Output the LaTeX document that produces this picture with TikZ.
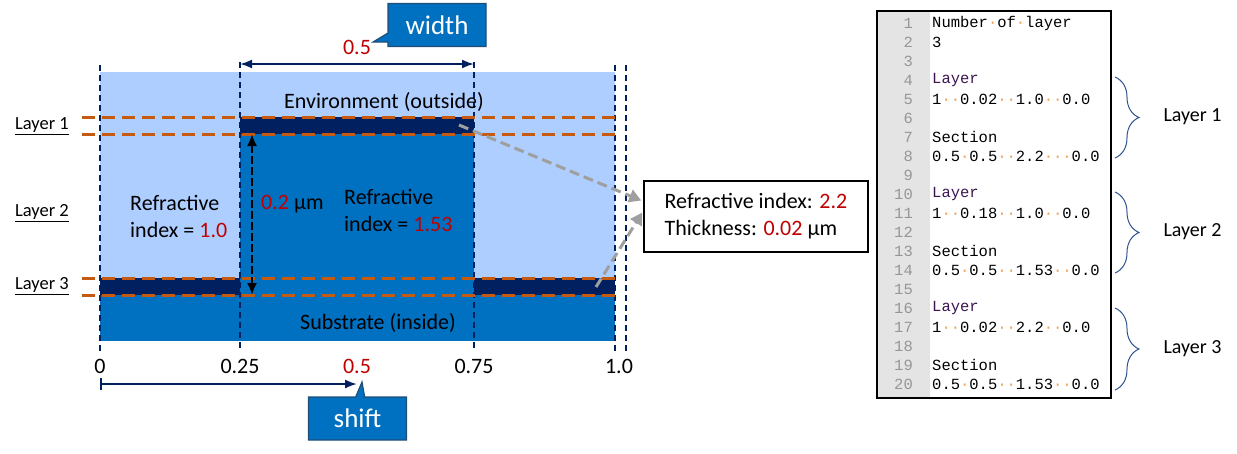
\documentclass[tikz,border=0pt]{standalone}
\usepackage{fontspec}
\setmainfont{Carlito}
\setmonofont{Liberation Mono}
\usetikzlibrary{shapes,shapes.callouts,positioning,arrows.meta,calc,decorations.pathreplacing}

\definecolor{envblue}{RGB}{174,206,255}
\definecolor{midblue}{RGB}{0,112,192}
\definecolor{navy}{RGB}{0,32,96}
\definecolor{layerorange}{RGB}{197,90,17}
\definecolor{valred}{RGB}{192,0,0}
\definecolor{guttergray}{RGB}{228,228,228}
\definecolor{numgray}{RGB}{150,150,150}
\definecolor{bracecol}{RGB}{47,82,143}
\definecolor{kwpurple}{RGB}{60,20,80}
\definecolor{dotorange}{RGB}{240,160,80}
\definecolor{boxedge}{RGB}{31,78,121}

\newcommand{\blankdot}{{\color{dotorange}·}}

\tikzset{
  guide/.style={navy, line width=1.3pt, dash pattern=on 6pt off 4pt},
  layerline/.style={layerorange, line width=3pt, dash pattern=on 13pt off 7pt},
  dimarrow/.style={navy, line width=2pt},
  callbox/.style={rectangle callout, fill=midblue, draw=boxedge, line width=1.2pt, text=white,
    font=\fontsize{27}{30}\selectfont, minimum width=98pt, minimum height=43pt, callout pointer width=9pt},
  pointer/.style={gray!75, line width=3pt, dash pattern=on 10pt off 5pt, -{Triangle[length=12pt,width=13pt]}},
  codeline/.style={font=\ttfamily\fontsize{15.5}{19}\selectfont, anchor=west, inner sep=0pt},
  linenum/.style={font=\ttfamily\fontsize{15.5}{19}\selectfont, text=numgray, anchor=east, inner sep=0pt},
  layerbrace/.style={bracecol, line width=1pt, decorate, decoration={brace, amplitude=24pt}},
  sidelabel/.style={font=\fontsize{18.5}{20}\selectfont},
}

\begin{document}
\begin{tikzpicture}[x=1pt, y=-1pt, font=\fontsize{22}{27}\selectfont]
\useasboundingbox (0,0) rectangle (1237,453);

% cross section of the structure
\fill[envblue] (100,72) rectangle (615,341);
\fill[midblue] (240,134) rectangle (474,295);
\fill[navy] (240,117) rectangle (474,134);
\fill[navy] (100,278) rectangle (240,295);
\fill[navy] (474,278) rectangle (615,295);
\fill[midblue] (100,295) rectangle (615,341);

% guides
\draw[guide] (100,65) -- (100,352);
\draw[guide] (240,62) -- (240,350);
\draw[guide] (474,62) -- (474,350);
\draw[guide] (615,65) -- (615,352);
\draw[guide] (626,65) -- (626,352);
\foreach \y in {117,134,278,295}
  \draw[layerline] (82,\y) -- (615,\y);

% layer names on the left
\node[sidelabel] (lay1) at (42,126) {\underline{Layer 1}};
\node[sidelabel] (lay2) at (42,213) {\underline{Layer 2}};
\node[sidelabel] (lay3) at (42,286) {\underline{Layer 3}};

% texts in the cross section
\node (env) at (384,102) {Environment (outside)};
\node (sub) at (378,323) {Substrate (inside)};
\node[anchor=west, align=left, inner sep=0pt] (nleft) at (130,216) {Refractive\\index = \textcolor{valred}{1.0}};
\node[anchor=west, align=left, inner sep=0pt] (nright) at (344,210) {Refractive\\index = \textcolor{valred}{1.53}};
\node[anchor=west, inner sep=0pt] (thick) at (261,204) {\textcolor{valred}{0.2} µm};

\coordinate (ttop) at (252,134);
\coordinate (tbot) at (252,295);
\draw[line width=2pt, dash pattern=on 8pt off 3pt, {Latex[length=12pt,width=10pt]}-{Latex[length=12pt,width=10pt]}] (ttop) -- (tbot);

% width and shift
\coordinate (wl) at (240,64);
\coordinate (wr) at (474,64);
\draw[dimarrow, {Latex[length=12pt,width=9pt]}-{Latex[length=12pt,width=9pt]}] (wl) -- (wr);
\node[text=valred] (wval) at (357,47) {0.5};
\node[callbox, callout absolute pointer={(373,42)}] (width) at (437,25) {width};

\coordinate (sl) at (100,384);
\coordinate (sr) at (357,384);
\draw[dimarrow, {Bar[width=12pt]}-{Latex[length=12pt,width=9pt]}] (sl) -- (sr);
\node[callbox, callout absolute pointer={(362,382)}] (shift) at (357.5,418.5) {shift};

% axis labels
\node (t0) at (100,366) {0};
\node (t1) at (240,366) {0.25};
\node[text=valred] (t2) at (357,366) {0.5};
\node (t3) at (474,366) {0.75};
\node (t4) at (619,366) {1.0};

% info box
\node[draw, line width=1.5pt, minimum width=224pt, minimum height=71pt, align=left] (info) at (756,216.5)
  {Refractive index: \textcolor{valred}{2.2}\\Thickness: \textcolor{valred}{0.02} µm};
\coordinate (topstrip) at (459,125);
\coordinate (botstrip) at (596,287);
\draw[pointer] (topstrip) -- ($(info.west)+(-2,-16)$);
\draw[pointer] (botstrip) -- ($(info.west)+(-1,-4)$);

% input file
\fill[guttergray] (877,11) rectangle (930,398);
\draw[line width=1.5pt] (877,11) rectangle (1111,398);
\foreach \code [count=\n] in {Number\blankdot of\blankdot layer, 3, {},
    \textcolor{kwpurple}{Layer}, 1\blankdot\blankdot 0.02\blankdot\blankdot 1.0\blankdot\blankdot 0.0, {},
    Section, 0.5\blankdot 0.5\blankdot\blankdot 2.2\blankdot\blankdot\blankdot 0.0, {},
    \textcolor{kwpurple}{Layer}, 1\blankdot\blankdot 0.18\blankdot\blankdot 1.0\blankdot\blankdot 0.0, {},
    Section, 0.5\blankdot 0.5\blankdot\blankdot 1.53\blankdot\blankdot 0.0, {},
    \textcolor{kwpurple}{Layer}, 1\blankdot\blankdot 0.02\blankdot\blankdot 2.2\blankdot\blankdot 0.0, {},
    Section, 0.5\blankdot 0.5\blankdot\blankdot 1.53\blankdot\blankdot 0.0} {
  \node[linenum] (num\n) at (913,{23+19*(\n-1)}) {\n};
  \node[codeline] (code\n) at (932,{23+19*(\n-1)}) {\code};
}

% braces for the layers
\draw[layerbrace] (1115,77) -- (1115,158);
\draw[layerbrace] (1115,192) -- (1115,273);
\draw[layerbrace] (1115,308) -- (1115,390);
\node[anchor=west, font=\fontsize{20}{24}\selectfont] (brace1) at (1160,117) {Layer 1};
\node[anchor=west, font=\fontsize{20}{24}\selectfont] (brace2) at (1160,232) {Layer 2};
\node[anchor=west, font=\fontsize{20}{24}\selectfont] (brace3) at (1160,349) {Layer 3};
\end{tikzpicture}
\end{document}
